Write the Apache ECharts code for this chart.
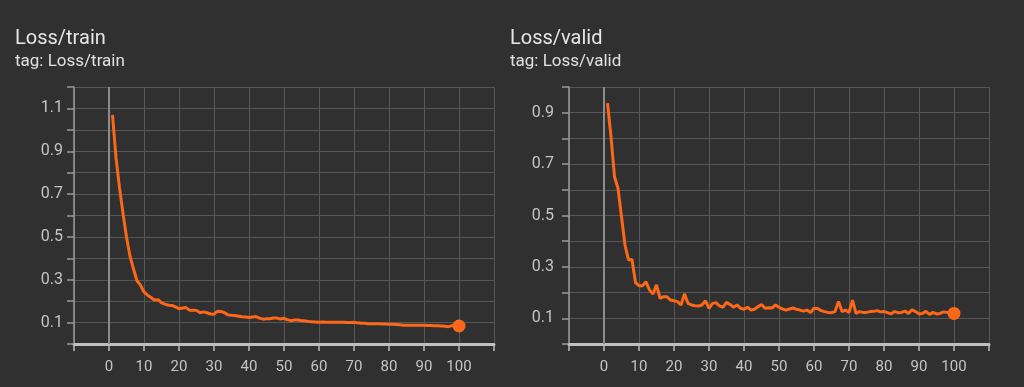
<!DOCTYPE html>
<html>
<head>
<meta charset="utf-8">
<script src="https://cdn.jsdelivr.net/npm/echarts@6/dist/echarts.min.js"></script>
<style>
html,body{margin:0;padding:0;background:#303030;}
#c{width:1024px;height:387px;}
</style>
</head>
<body>
<div id="c"></div>
<script>
// ---- data ----
const steps = Array.from({length: 100}, (_, i) => i + 1);
const trainLoss = [
  1.07, 0.87, 0.73, 0.61, 0.50, 0.41, 0.35, 0.295, 0.275, 0.243,
  0.228, 0.217, 0.205, 0.207, 0.192, 0.186, 0.181, 0.180, 0.173, 0.165,
  0.168, 0.170, 0.158, 0.158, 0.157, 0.146, 0.150, 0.146, 0.140, 0.139,
  0.153, 0.152, 0.146, 0.136, 0.134, 0.133, 0.130, 0.127, 0.126, 0.124,
  0.126, 0.128, 0.121, 0.116, 0.118, 0.118, 0.121, 0.121, 0.117, 0.120,
  0.113, 0.109, 0.112, 0.112, 0.109, 0.108, 0.105, 0.104, 0.103, 0.102,
  0.103, 0.102, 0.102, 0.101, 0.102, 0.101, 0.101, 0.100, 0.100, 0.101,
  0.099, 0.097, 0.097, 0.095, 0.094, 0.095, 0.094, 0.093, 0.093, 0.092,
  0.092, 0.091, 0.090, 0.088, 0.087, 0.087, 0.087, 0.087, 0.087, 0.087,
  0.086, 0.086, 0.085, 0.085, 0.084, 0.083, 0.081, 0.086, 0.085, 0.084
];
const validLoss = [
  0.937, 0.807, 0.651, 0.606, 0.495, 0.385, 0.327, 0.329, 0.239, 0.227,
  0.227, 0.242, 0.210, 0.195, 0.230, 0.178, 0.184, 0.184, 0.171, 0.168,
  0.165, 0.152, 0.195, 0.158, 0.152, 0.149, 0.148, 0.152, 0.168, 0.139,
  0.158, 0.161, 0.148, 0.143, 0.162, 0.154, 0.143, 0.152, 0.139, 0.135,
  0.143, 0.132, 0.135, 0.145, 0.154, 0.139, 0.141, 0.140, 0.152, 0.143,
  0.136, 0.132, 0.136, 0.140, 0.135, 0.132, 0.128, 0.132, 0.122, 0.139,
  0.138, 0.130, 0.126, 0.123, 0.122, 0.126, 0.165, 0.126, 0.132, 0.122,
  0.171, 0.119, 0.126, 0.123, 0.123, 0.126, 0.127, 0.130, 0.125, 0.126,
  0.122, 0.117, 0.126, 0.122, 0.123, 0.128, 0.119, 0.133, 0.126, 0.117,
  0.119, 0.127, 0.115, 0.123, 0.117, 0.119, 0.125, 0.123, 0.119, 0.119
];
const xTickLabels = ['0','10','20','30','40','50','60','70','80','90','100'];
const titles = ['Loss/train', 'Loss/valid'];
const yMax = [1.2, 1.0];

// ---- chart ----
const LINE = '#fc6718';
const GRID = '#575757';
const TXT = '#c4c4c4';
const FONT = 'Roboto';

function xAxis(gi) {
  return {
    type: 'value', gridIndex: gi, min: -10, max: 110, interval: 10,
    axisLine: {show: true, onZero: false, lineStyle: {color: '#c0c0c0', width: 3}},
    axisTick: {show: true, length: 7, lineStyle: {color: '#bdbdbd', width: 1.5}},
    axisLabel: {
      color: TXT, fontFamily: FONT, fontSize: 15, margin: 16,
      formatter: v => xTickLabels.indexOf(String(v)) >= 0 ? String(v) : ''
    },
    splitLine: {show: true, lineStyle: {color: GRID, width: 1}}
  };
}
function yAxis(gi, margin) {
  return {
    type: 'value', gridIndex: gi, min: 0, max: yMax[gi], interval: 0.1,
    axisLine: {show: true, onZero: false, lineStyle: {color: '#9a9a9a', width: 1.5}},
    axisTick: {show: true, length: 7, lineStyle: {color: '#9a9a9a', width: 1.5}},
    axisLabel: {
      color: TXT, fontFamily: FONT, fontSize: 16, margin: margin,
      formatter: v => {
        const k = Math.round(v * 10);
        return k % 2 === 1 ? (k / 10).toFixed(1) : '';
      }
    },
    splitLine: {show: true, lineStyle: {color: GRID, width: 1}}
  };
}
function lineSeries(gi, ys) {
  return {
    type: 'line', xAxisIndex: gi, yAxisIndex: gi,
    data: steps.map((s, i) => [s, ys[i]]),
    symbol: 'none', lineStyle: {color: LINE, width: 3}, z: 3,
    markLine: {
      silent: true, symbol: 'none', label: {show: false},
      lineStyle: {color: '#8c8c8c', width: 2, type: 'solid'},
      data: [{xAxis: 0}], z: 1
    }
  };
}
function dotSeries(gi, ys) {
  return {
    type: 'scatter', xAxisIndex: gi, yAxisIndex: gi,
    data: [[steps[steps.length - 1], ys[ys.length - 1]]],
    symbolSize: 13, itemStyle: {color: LINE, opacity: 1}, z: 4
  };
}

function titleOpt(i, left) {
  return {
    text: titles[i], subtext: 'tag: ' + titles[i], left: left, top: 29, padding: 0, itemGap: 4,
    textStyle: {color: '#e6e6e6', fontFamily: FONT, fontSize: 20, fontWeight: 'normal'},
    subtextStyle: {color: '#e0e0e0', fontFamily: FONT, fontSize: 17}
  };
}

const chart = echarts.init(document.getElementById('c'), null, {renderer: 'canvas'});
chart.setOption({
  backgroundColor: '#303030',
  animation: false,
  title: [titleOpt(0, 15), titleOpt(1, 510)],
  grid: [
    {left: 74, right: 530, top: 87, bottom: 43, containLabel: false},
    {left: 569, right: 35, top: 87, bottom: 43, containLabel: false}
  ],
  xAxis: [xAxis(0), xAxis(1)],
  yAxis: [yAxis(0, 11), yAxis(1, 15)],
  series: [
    lineSeries(0, trainLoss), dotSeries(0, trainLoss),
    lineSeries(1, validLoss), dotSeries(1, validLoss)
  ]
});
</script>
</body>
</html>
